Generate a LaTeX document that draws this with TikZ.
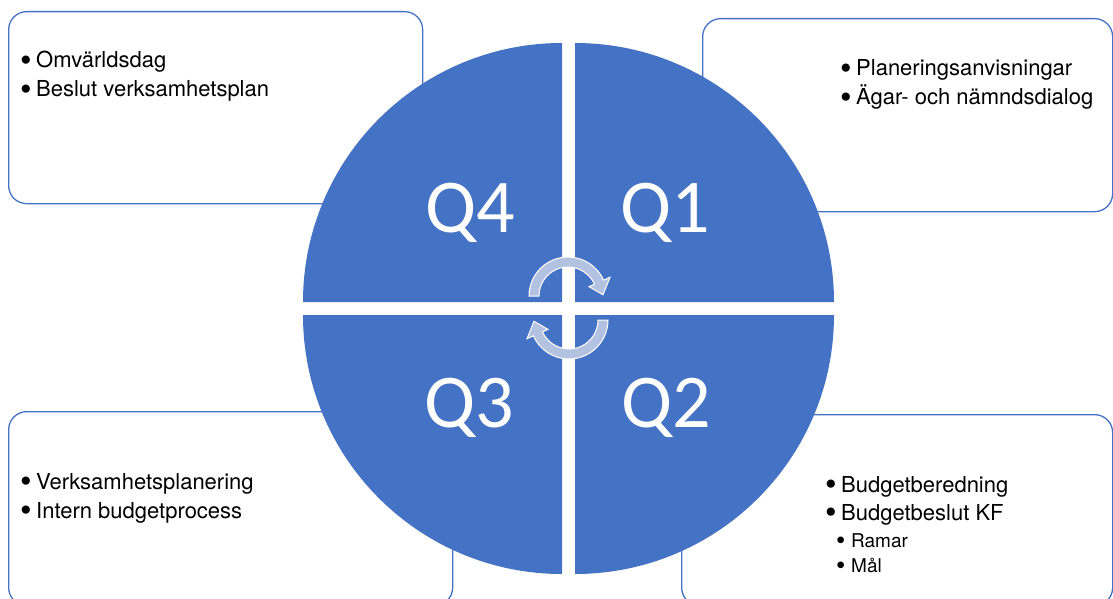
\documentclass[tikz,border=0pt]{standalone}
\usepackage{fontspec}
\setmainfont{TeX Gyre Heros}
\newfontfamily\kvfont{Carlito}
\usepackage{graphicx}
\usepackage{xcolor}
\usepackage{tikz}

\definecolor{blaa}{RGB}{68,114,196}
\definecolor{ljusblaa}{RGB}{180,194,226}

\newcommand{\punkt}{\makebox[16pt][l]{\raisebox{-3.5pt}{\scalebox{1.5}{\textbullet}}}}
\newcommand{\underpunkt}{\makebox[15pt][l]{\raisebox{-2.5pt}{\scalebox{1.4}{\textbullet}}}}

\begin{document}
\begin{tikzpicture}[x=1pt,y=-1pt,
	ruta/.style={draw=blaa,line width=1.3pt,rounded corners=18pt,fill=white,inner sep=0pt,anchor=north west},
	lista/.style={inner sep=0pt,anchor=base west,font=\fontsize{22}{29}\selectfont},
	kvartal/.style={inner sep=0pt,anchor=base,text=white,font=\kvfont\fontsize{76}{76}\selectfont},
	pil/.style={fill=ljusblaa,draw=white,line width=1pt}]
	\useasboundingbox (0,0) rectangle (1113,599);
	
	\node[ruta,minimum width=414pt,minimum height=192pt] (rutaQ4) at (8,11) {};
	\node[ruta,minimum width=410pt,minimum height=193pt] (rutaQ1) at (702,18) {};
	\node[ruta,minimum width=444pt,minimum height=194pt] (rutaQ3) at (8,411) {};
	\node[ruta,minimum width=431pt,minimum height=191pt] (rutaQ2) at (681,414) {};
	
	\node[lista] (textQ4) at (20,68) {\begin{tabular}[t]{@{}l@{}}\punkt Omvärldsdag\\\punkt Beslut verksamhetsplan\end{tabular}};
	\node[lista] (textQ1) at (840,76) {\begin{tabular}[t]{@{}l@{}}\punkt Planeringsanvisningar\\\punkt Ägar- och nämndsdialog\end{tabular}};
	\node[lista] (textQ3) at (20,489) {\begin{tabular}[t]{@{}l@{}}\punkt Verksamhetsplanering\\\punkt Intern budgetprocess\end{tabular}};
	\node[lista,font=\fontsize{22}{28}\selectfont] (textQ2) at (825,492) {\begin{tabular}[t]{@{}l@{}}\punkt Budgetberedning\\\punkt Budgetbeslut KF\end{tabular}};
	\node[lista,font=\fontsize{19}{25}\selectfont] (underQ2) at (836,547) {\begin{tabular}[t]{@{}l@{}}\underpunkt Ramar\\\underpunkt Mål\end{tabular}};
	
	\foreach \cx/\cy/\a/\namn/\lx/\ly in {562/302/180/Q4/470/232, 575/302/270/Q1/665/232, 575/315/0/Q2/666/427, 562/315/90/Q3/469/427}{
		\fill[blaa] (\cx,\cy) -- ++(\a:259) arc[start angle=\a,delta angle=90,radius=259] -- cycle;
		\node[kvartal] (\namn) at (\lx,\ly) {\namn};
	}
	
	\foreach \px/\py/\sx/\sy in {568/296/1/-1, 569/320/-1/1}{
		\begin{scope}[shift={(\px,\py)},xscale=\sx,yscale=\sy]
			\filldraw[pil] (180:29) -- (180:39) arc[start angle=180,end angle=24,radius=39] -- (24:46) -- (2:35) -- (24:23) -- (24:29) arc[start angle=24,end angle=180,radius=29] -- cycle;
		\end{scope}
	}
\end{tikzpicture}
\end{document}
